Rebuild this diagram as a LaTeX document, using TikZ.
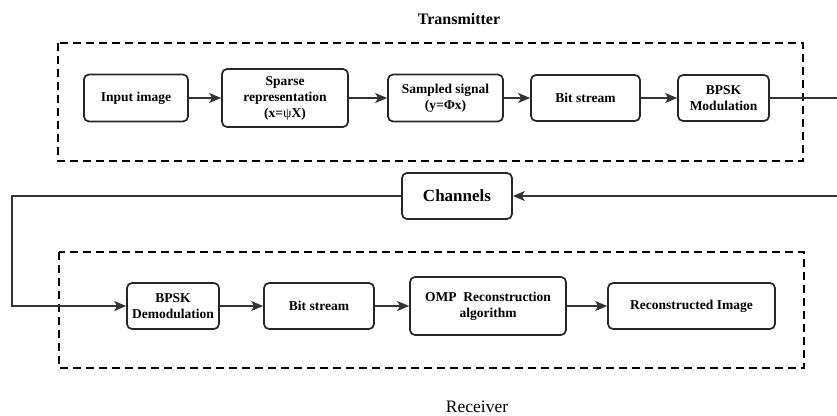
\documentclass[tikz,border=0pt]{standalone}
\usepackage{fontspec}
\setmainfont{Liberation Serif}
\usetikzlibrary{arrows.meta}
\begin{document}
\begin{tikzpicture}[x=1pt,y=-1pt,
  blk/.style={draw=black!85,line width=1.7pt,rounded corners=5pt,align=center,
    font=\fontsize{13.5}{16}\selectfont\bfseries,inner sep=0pt},
  grp/.style={draw=black,line width=2.8pt,dash pattern=on 8pt off 5pt},
  conn/.style={draw=black!80,line width=1.5pt},
  arr/.style={conn,-{Stealth[length=12pt,width=10pt,inset=3pt]}}]
\useasboundingbox (0,0) rectangle (837,415);
% group frames
\draw[grp] (58,43) rectangle (803,161);
\draw[grp] (59,252) rectangle (804,368);
\node[font=\fontsize{16}{18}\selectfont\bfseries] (tx) at (459,19) {Transmitter};
\node[font=\fontsize{17.5}{19}\selectfont] (rx) at (477,407) {Receiver};
% transmitter blocks
\node[blk,minimum width=104pt,minimum height=47pt] (in) at (136,98) {Input image};
\node[blk,minimum width=126pt,minimum height=58pt] (sp) at (285,98) {Sparse\\representation\\(x=\textmd{ψ}X)};
\node[blk,minimum width=115pt,minimum height=47pt] (sa) at (445.5,98) {Sampled signal\\(y=Φx)};
\node[blk,minimum width=109pt,minimum height=46pt] (bs) at (585.5,98) {Bit stream};
\node[blk,minimum width=91pt,minimum height=46pt] (mo) at (723.5,98) {BPSK\\Modulation};
% channel
\node[blk,minimum width=110pt,minimum height=46pt,font=\fontsize{17}{19}\selectfont\bfseries] (ch) at (457,196) {Channels};
% receiver blocks
\node[blk,minimum width=92pt,minimum height=46pt] (de) at (173,306) {BPSK\\Demodulation};
\node[blk,minimum width=110pt,minimum height=46pt] (bs2) at (319,306) {Bit stream};
\node[blk,minimum width=156pt,minimum height=58pt] (omp) at (488,306) {OMP\ \ Reconstruction\\algorithm};
\node[blk,minimum width=167pt,minimum height=46pt] (re) at (691.5,306) {Reconstructed Image};
% corner coordinates
\coordinate (c1) at (839,98);
\coordinate (c2) at (839,196);
\coordinate (c3) at (12,196);
\coordinate (c4) at (12,306);
% connectors
\draw[arr] (in) -- (sp);
\draw[arr] (sp) -- (sa);
\draw[arr] (sa) -- (bs);
\draw[arr] (bs) -- (mo);
\draw[arr] (mo.east) -- (c1) -- (c2) -- (ch.east);
\draw[arr] (ch.west) -- (c3) -- (c4) -- (de.west);
\draw[arr] (de) -- (bs2);
\draw[arr] (bs2) -- (omp);
\draw[arr] (omp) -- (re);
\end{tikzpicture}
\end{document}
